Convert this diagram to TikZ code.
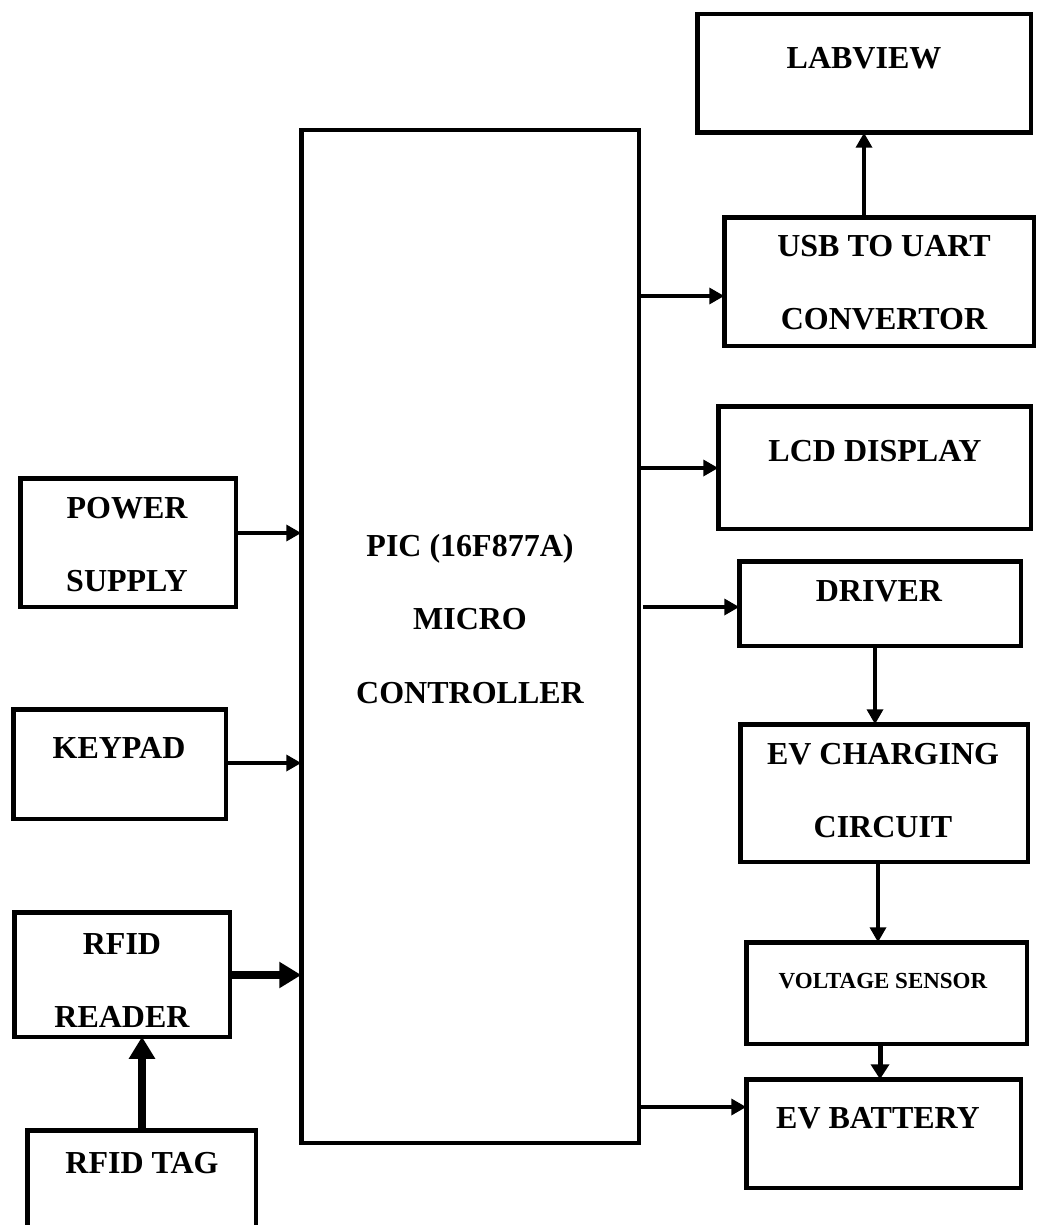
\documentclass[tikz,border=0pt]{standalone}
\usepackage{fontspec}
\setmainfont{Liberation Serif}
\usetikzlibrary{arrows.meta}

\begin{document}
\begin{tikzpicture}[
  x=1pt, y=-1pt,
  blk/.style={rectangle, draw, line width=4.5pt, inner sep=0pt, outer sep=0pt},
  txt/.style={anchor=north, inner sep=0pt, align=center, font=\fontsize{32}{73.5}\selectfont\bfseries},
  arr/.style={-{Triangle[length=15pt,width=16pt]}, line width=3.5pt},
  midarr/.style={-{Triangle[length=15pt,width=18pt]}, line width=5pt},
  fatarr/.style={-{Triangle[length=22pt,width=25pt]}, line width=8pt}
]
\useasboundingbox (0,0) rectangle (1036,1225);
\clip (0,0) rectangle (1036,1225);

% Controller
\node[blk, minimum width=337.5pt, minimum height=1012.5pt] (pic) at (470,636.5) {};
\node[txt] (picT) at (470,534) {PIC (16F877A)\\MICRO\\CONTROLLER};

% Right column
\node[blk, minimum width=333.5pt, minimum height=118.5pt] (lab) at (864,73.5) {};
\node[txt] (labT) at (864,47) {LABVIEW};
\node[blk, minimum width=309.5pt, minimum height=128.5pt] (usb) at (879,281.5) {};
\node[txt] (usbT) at (884,235) {USB TO UART\\CONVERTOR};
\node[blk, minimum width=312.5pt, minimum height=122.5pt] (lcd) at (874.5,467.5) {};
\node[txt] (lcdT) at (875,440) {LCD DISPLAY};
\node[blk, minimum width=281.5pt, minimum height=84.5pt] (drv) at (880,603.5) {};
\node[txt] (drvT) at (879,580) {DRIVER};
\node[blk, minimum width=287.5pt, minimum height=137.5pt] (chg) at (884,793) {};
\node[txt] (chgT) at (883,743) {EV CHARGING\\CIRCUIT};
\node[blk, minimum width=280.5pt, minimum height=101.5pt] (vs) at (886.5,993) {};
\node[txt, font=\fontsize{23}{28}\selectfont\bfseries] (vsT) at (883,973) {VOLTAGE SENSOR};
\node[blk, minimum width=274.5pt, minimum height=108.5pt] (bat) at (883.5,1133.5) {};
\node[txt] (batT) at (878,1107) {EV BATTERY};

% Left column
\node[blk, minimum width=215.5pt, minimum height=128.5pt] (ps) at (128,542.5) {};
\node[txt] (psT) at (127,497) {POWER\\SUPPLY};
\node[blk, minimum width=212.5pt, minimum height=109.5pt] (kp) at (119.5,764) {};
\node[txt] (kpT) at (119,737) {KEYPAD};
\node[blk, minimum width=215.5pt, minimum height=124.5pt] (rdr) at (122,974.5) {};
\node[txt] (rdrT) at (122,933) {RFID\\READER};
\node[blk, minimum width=228.5pt, minimum height=127.5pt] (tag) at (141.5,1194) {};
\node[txt] (tagT) at (142,1152) {RFID TAG};

% Outputs of the controller
\draw[arr] (pic.east |- 0,296) -- (usb.west |- 0,296);
\draw[arr] (lab.south |- usb.north) -- (lab.south);
\draw[arr] (pic.east |- 0,468) -- (lcd.west |- 0,468);
\draw[arr, shorten <=4pt] (pic.east |- 0,607) -- (drv.west |- 0,607);
\draw[arr] (drv.south -| 875,0) -- (chg.north -| 875,0);
\draw[arr] (chg.south -| 878,0) -- (vs.north -| 878,0);
\draw[midarr] (vs.south -| 880,0) -- (bat.north -| 880,0);
\draw[arr] (pic.east |- 0,1107) -- (bat.west |- 0,1107);

% Inputs of the controller
\draw[arr] (ps.east |- 0,533) -- (pic.west |- 0,533);
\draw[arr] (kp.east |- 0,763) -- (pic.west |- 0,763);
\draw[fatarr] (rdr.east |- 0,975) -- (pic.west |- 0,975);
\draw[fatarr] (tag.north -| 142,0) -- (rdr.south -| 142,0);

\end{tikzpicture}
\end{document}
